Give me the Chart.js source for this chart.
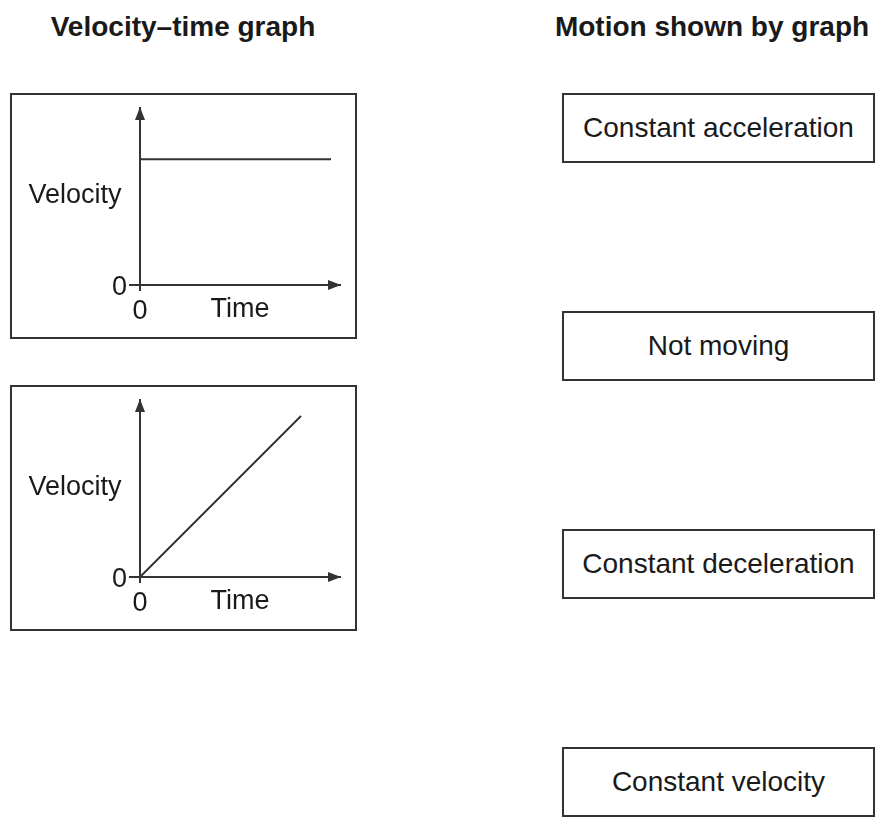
<!DOCTYPE html>
<html>
<head>
<meta charset="utf-8">
<script src="https://cdn.jsdelivr.net/npm/chart.js@4"></script>
<style>
  body { margin: 0; width: 880px; height: 817px; overflow: hidden; background: #fff;
         font-family: "Liberation Sans", Arial, sans-serif; color: #1a1a1a; position: relative; }
  .heading { position: absolute; top: 10px; font-size: 28px; line-height: 34px; font-weight: bold; text-align: center; width: 400px; }
  .graph { position: absolute; left: 10px; width: 347px; height: 246px; border: 2px solid #333; box-sizing: border-box; }
  .graph canvas { display: block; }
  .motion { position: absolute; left: 562px; width: 313px; height: 70px; border: 2px solid #333; box-sizing: border-box;
            display: flex; align-items: center; justify-content: center; font-size: 28px; }
</style>
</head>
<body>
<div class="heading" style="left:-17px">Velocity–time graph</div>
<div class="heading" style="left:512px">Motion shown by graph</div>

<div class="graph" style="top:93px"><canvas id="graphConstant" width="343" height="242"></canvas></div>
<div class="graph" style="top:385px"><canvas id="graphRamp" width="343" height="242"></canvas></div>

<script>
// Axis ranges (arbitrary units, arrow tips sit at the max)
const timeMax = 10;
const velocityMax = 10;

// Graph 1: horizontal line
const constantTime = [0, 9.55];
const constantVelocity = [7.1, 7.1];

// Graph 2: straight line through the origin
const rampTime = [0, 8.05];
const rampVelocity = [0, 9.1];

// Texts
const axisZeroLabel = "0";
const yAxisLabel = "Velocity";
const xAxisLabel = "Time";
const motionLabels = ["Constant acceleration", "Not moving", "Constant deceleration", "Constant velocity"];

const INK = "#333";
const TEXT = "#1a1a1a";
const FONT = "'Liberation Sans', Arial, sans-serif";
Chart.defaults.font.family = FONT;
Chart.defaults.color = TEXT;

// Right-hand answer boxes
motionLabels.forEach((label, i) => {
  const box = document.createElement("div");
  box.className = "motion";
  box.style.top = (93 + 218 * i) + "px";
  box.textContent = label;
  document.body.appendChild(box);
});

// Arrowheads on both axes and the horizontal "Velocity" label
const axisDecor = {
  id: "axisDecor",
  afterDraw(chart) {
    const { ctx, chartArea: a } = chart;
    ctx.save();
    ctx.fillStyle = INK;
    // up arrow on the velocity axis
    ctx.beginPath();
    ctx.moveTo(a.left, a.top - 1);
    ctx.lineTo(a.left - 5, a.top + 12);
    ctx.lineTo(a.left + 5, a.top + 12);
    ctx.closePath();
    ctx.fill();
    // right arrow on the time axis
    ctx.beginPath();
    ctx.moveTo(a.right + 1, a.bottom);
    ctx.lineTo(a.right - 12, a.bottom - 5);
    ctx.lineTo(a.right - 12, a.bottom + 5);
    ctx.closePath();
    ctx.fill();
    // y label, written horizontally
    ctx.fillStyle = TEXT;
    ctx.font = "27px " + FONT;
    ctx.textAlign = "center";
    ctx.textBaseline = "middle";
    ctx.fillText(yAxisLabel, a.left - 65, (a.top + a.bottom) / 2 - 1);
    ctx.restore();
  }
};

function makeGraph(id, times, velocities) {
  const points = times.map((t, i) => ({ x: t, y: velocities[i] }));
  new Chart(document.getElementById(id), {
    type: "line",
    data: {
      datasets: [{
        data: points,
        borderColor: INK,
        borderWidth: 2,
        pointRadius: 0,
        fill: false,
        tension: 0,
        clip: false
      }]
    },
    options: {
      responsive: false,
      animation: false,
      events: [],
      layout: { padding: { left: 100, right: 15, top: 13, bottom: 9 } },
      plugins: { legend: { display: false }, tooltip: { enabled: false } },
      scales: {
        x: {
          type: "linear",
          min: 0,
          max: timeMax,
          afterBuildTicks: (axis) => { axis.ticks = [{ value: 0 }]; },
          afterFit: (axis) => { axis.height = 43; axis.paddingLeft = 0; axis.paddingRight = 0; },
          ticks: { callback: () => axisZeroLabel, font: { size: 27 }, padding: 4, maxRotation: 0 },
          grid: { drawOnChartArea: false, tickLength: 6, color: INK, lineWidth: 2 },
          border: { color: INK, width: 2 },
          title: { display: true, text: xAxisLabel, font: { size: 27 }, color: TEXT, padding: { top: 0, bottom: 2 } }
        },
        y: {
          type: "linear",
          min: 0,
          max: velocityMax,
          afterBuildTicks: (axis) => { axis.ticks = [{ value: 0 }]; },
          afterFit: (axis) => { axis.width = 28; axis.paddingTop = 0; axis.paddingBottom = 0; },
          ticks: { callback: () => axisZeroLabel, font: { size: 27 }, padding: 2, labelOffset: 3 },
          grid: { drawOnChartArea: false, tickLength: 11, color: INK, lineWidth: 2 },
          border: { color: INK, width: 2 }
        }
      }
    },
    plugins: [axisDecor]
  });
}

makeGraph("graphConstant", constantTime, constantVelocity);
makeGraph("graphRamp", rampTime, rampVelocity);
</script>
</body>
</html>
